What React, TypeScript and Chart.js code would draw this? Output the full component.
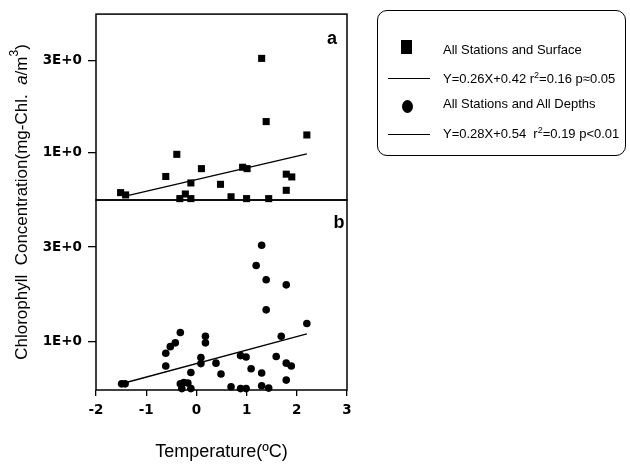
import React, { useEffect, useRef } from "react";
import { Chart, registerables } from "chart.js";
Chart.register(...registerables);

const FONT = "'Liberation Sans', Arial, sans-serif";
const TICK_FONT = "'DejaVu Sans', sans-serif";

// Panel a: All Stations and Surface
const surfaceX = [-1.51, -1.41, -0.61, -0.39, -0.11, -0.22, -0.33, -0.11, 0.1, 0.48, 0.69, 0.92, 1.01, 1.0, 1.3, 1.39, 1.44, 1.79, 1.9, 1.79, 2.2];
const surfaceY = [0.13, 0.08, 0.48, 0.96, 0.34, 0.1, 0.0, 0.0, 0.65, 0.31, 0.04, 0.68, 0.65, 0.0, 3.04, 1.67, 0.0, 0.53, 0.47, 0.18, 1.38];

// Panel b: All Stations and All Depths
const depthX = [-1.49, -1.42, -0.61, -0.61, -0.52, -0.42, -0.32, -0.11, -0.32, -0.25, -0.17, -0.29, -0.11, 0.09, 0.09, 0.18, 0.18, 0.39, 0.49, 0.69, 0.88, 0.99, 0.88, 0.99, 1.09, 1.19, 1.3, 1.3, 1.39, 1.39, 1.3, 1.44, 1.59, 1.69, 1.79, 1.79, 1.89, 1.79, 2.2];
const depthY = [0.1, 0.1, 0.48, 0.75, 0.89, 0.97, 1.19, 0.34, 0.1, 0.13, 0.12, 0.0, 0.0, 0.66, 0.53, 1.11, 0.97, 0.54, 0.31, 0.04, 0.7, 0.67, 0.0, 0.0, 0.42, 2.61, 3.04, 0.33, 2.31, 1.67, 0.06, 0.01, 0.68, 1.11, 2.2, 0.54, 0.48, 0.18, 1.38];

// Regression line end points
const fitAX = [-1.35, 2.2];
const fitAY = [0.07, 0.97];
const fitBX = [-1.4, 2.2];
const fitBY = [0.13, 1.16];

const xTickValues = [-2, -1, 0, 1, 2, 3];
const xTickLabels = ["-2", "-1", "0", "1", "2", "3"];
const yTickValues = [1, 3];
const yTickLabels = ["1E+0", "3E+0"];

const pts = (xs: number[], ys: number[]) => xs.map((x, i) => ({ x, y: ys[i] }));

function panelPlugin(label: string, dx: number, dy: number, titles: boolean) {
  return {
    id: "panel" + label,
    afterDraw(chart: any) {
      const { ctx, chartArea: a } = chart;
      ctx.save();
      ctx.strokeStyle = "#000";
      ctx.lineWidth = 1.5;
      ctx.strokeRect(a.left, a.top, a.right - a.left, a.bottom - a.top);
      ctx.fillStyle = "#000";
      ctx.font = `bold 18px ${FONT}`;
      ctx.textAlign = "center";
      ctx.textBaseline = "middle";
      ctx.fillText(label, a.right - dx, a.top + dy);
      if (titles) {
        // x title
        ctx.font = `18px ${FONT}`;
        ctx.fillText("Temperature(ºC)", (a.left + a.right) / 2, 452);
        // y title (rotated)
        const segs: [string, string, number][] = [
          ["Chlorophyll  Concentration(mg-Chl.  ", `17px ${FONT}`, 0],
          ["a", `italic 17px ${FONT}`, 0],
          ["/m", `17px ${FONT}`, 0],
          ["3", `12px ${FONT}`, -7],
          [")", `17px ${FONT}`, 0],
        ];
        let total = 0;
        const widths = segs.map(([t, f]) => {
          ctx.font = f;
          const w = ctx.measureText(t).width;
          total += w;
          return w;
        });
        ctx.translate(22, 202);
        ctx.rotate(-Math.PI / 2);
        ctx.textAlign = "left";
        let x = -total / 2;
        segs.forEach(([t, f, off], i) => {
          ctx.font = f;
          ctx.fillText(t, x, off);
          x += widths[i];
        });
      }
      ctx.restore();
    },
  };
}

function yScale() {
  return {
    type: "linear",
    min: -0.03,
    max: 4,
    afterFit: (s: any) => {
      s.width = 96;
    },
    afterBuildTicks: (s: any) => {
      s.ticks = yTickValues.map((v) => ({ value: v }));
    },
    ticks: {
      callback: (v: any) => {
        const i = yTickValues.indexOf(Number(v));
        return i >= 0 ? yTickLabels[i] : "";
      },
      font: { family: TICK_FONT, size: 13.5, weight: "bold" },
      color: "#000",
      padding: 6,
    },
    grid: { drawOnChartArea: false, drawTicks: true, tickLength: 8, color: "#000", lineWidth: 1.3 },
    border: { display: false },
  };
}

function makeChart(canvas: HTMLCanvasElement, panel: "a" | "b") {
  const isA = panel === "a";
  const scatterData = isA ? pts(surfaceX, surfaceY) : pts(depthX, depthY);
  const fitData = isA ? pts(fitAX, fitAY) : pts(fitBX, fitBY);
  return new Chart(canvas, {
    type: "scatter",
    data: {
      datasets: [
        {
          data: scatterData,
          pointStyle: isA ? "rect" : "circle",
          pointRadius: isA ? 5 : 3.8,
          backgroundColor: "#000",
          borderColor: "#000",
          borderWidth: 0,
          clip: false as any,
        },
        {
          data: fitData,
          showLine: true,
          pointRadius: 0,
          borderColor: "#000",
          borderWidth: 1.4,
          fill: false,
        },
      ],
    },
    options: {
      animation: false,
      responsive: false,
      devicePixelRatio: 1,
      layout: { padding: isA ? { left: 0, top: 10, right: 283, bottom: 265 } : { left: 0, top: 200, right: 283, bottom: 0 } },
      plugins: { legend: { display: false }, tooltip: { enabled: false }, title: { display: false } },
      scales: {
        x: isA
          ? { type: "linear", min: -2, max: 3, display: false }
          : {
              type: "linear",
              min: -2,
              max: 3,
              afterFit: (s: any) => {
                s.height = 75;
              },
              afterBuildTicks: (s: any) => {
                s.ticks = xTickValues.map((v) => ({ value: v }));
              },
              ticks: {
                callback: (v: any) => {
                  const i = xTickValues.indexOf(Number(v));
                  return i >= 0 ? xTickLabels[i] : "";
                },
                font: { family: TICK_FONT, size: 13.5, weight: "bold" },
                color: "#000",
                padding: 6,
                maxRotation: 0,
              },
              grid: { drawOnChartArea: false, drawTicks: true, tickLength: 6, color: "#000", lineWidth: 1.3 },
              border: { display: false },
            },
        y: yScale() as any,
      },
    } as any,
    plugins: [isA ? panelPlugin("a", 15, 25, false) : panelPlugin("b", 8, 23, true)],
  });
}

const abs = (l: number, t: number, extra: React.CSSProperties = {}): React.CSSProperties => ({
  position: "absolute",
  left: l,
  top: t,
  ...extra,
});

const textStyle: React.CSSProperties = {
  font: `13px ${FONT}`,
  color: "#000",
  whiteSpace: "pre",
  lineHeight: "16px",
  height: 16,
};

const sup: React.CSSProperties = { fontSize: 9, position: "relative", top: -5, lineHeight: 0 };

export default function App() {
  const refA = useRef<HTMLCanvasElement>(null);
  const refB = useRef<HTMLCanvasElement>(null);
  useEffect(() => {
    const a = makeChart(refA.current!, "a");
    const b = makeChart(refB.current!, "b");
    return () => {
      a.destroy();
      b.destroy();
    };
  }, []);
  return (
    <div style={{ position: "fixed", left: 0, top: 0, width: 630, height: 465, background: "#fff" }}>
      <canvas ref={refA} width={630} height={465} style={abs(0, 0, { width: 630, height: 465 })} />
      <canvas ref={refB} width={630} height={465} style={abs(0, 0, { width: 630, height: 465 })} />
      <div
        style={abs(377, 10, {
          width: 249,
          height: 146,
          border: "1px solid #000",
          borderRadius: 10,
          boxSizing: "border-box",
        })}
      />
      <div style={abs(401, 40, { width: 11, height: 14, background: "#000" })} />
      <div style={{ ...abs(443, 42), ...textStyle }}>All Stations and Surface</div>
      <div style={abs(388, 78, { width: 42, height: 1.4, background: "#000" })} />
      <div style={{ ...abs(443, 71), ...textStyle }}>
        Y=0.26X+0.42 r<span style={sup}>2</span>=0.16 p≈0.05
      </div>
      <div style={abs(401.5, 99.5, { width: 11, height: 13, background: "#000", borderRadius: "50%" })} />
      <div style={{ ...abs(443, 96), ...textStyle }}>All Stations and All Depths</div>
      <div style={abs(388, 134, { width: 42, height: 1.4, background: "#000" })} />
      <div style={{ ...abs(443, 126), ...textStyle }}>
        Y=0.28X+0.54  r<span style={sup}>2</span>=0.19 p&lt;0.01
      </div>
    </div>
  );
}
